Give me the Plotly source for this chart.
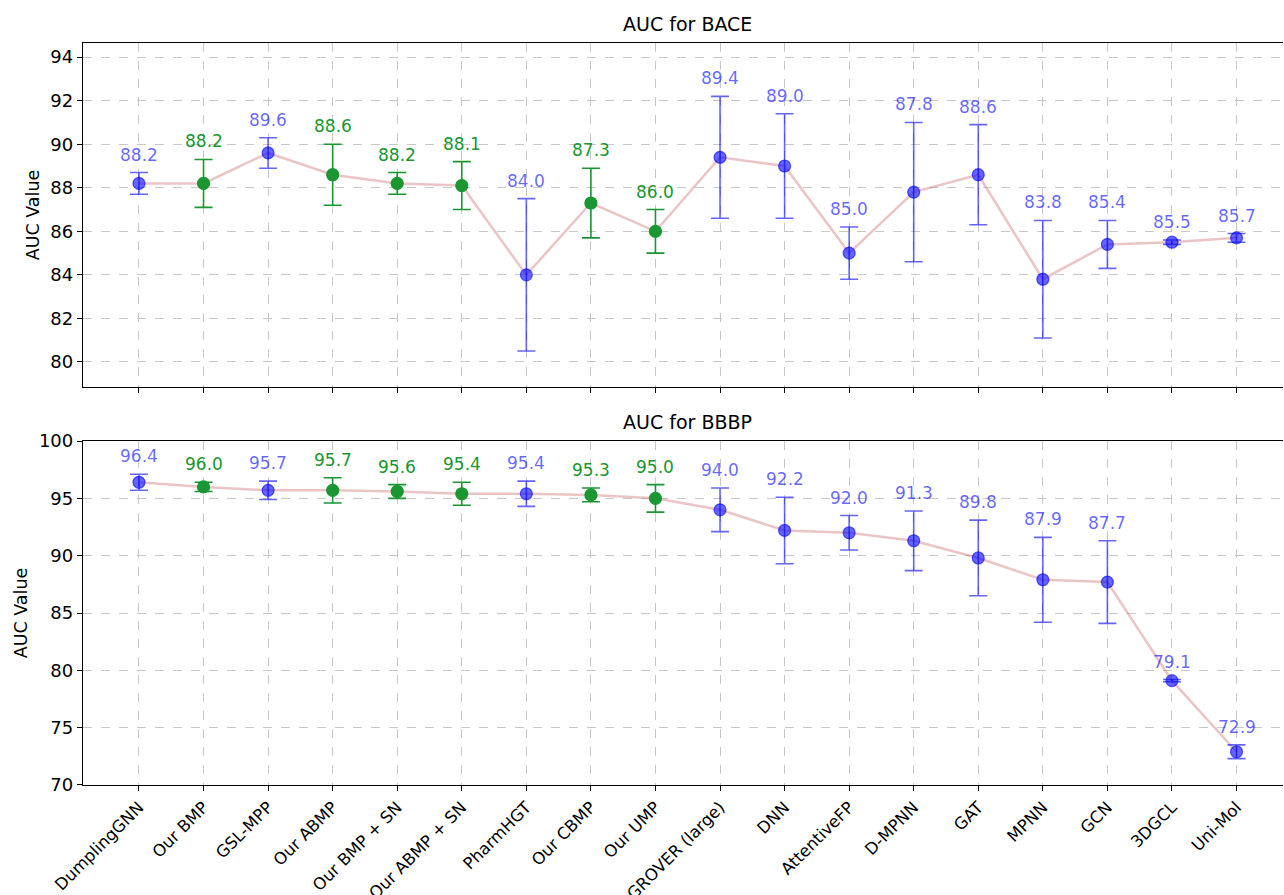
import plotly.graph_objects as go

categories = ["DumplingGNN", "Our BMP", "GSL-MPP", "Our ABMP", "Our BMP + SN", "Our ABMP + SN",
              "PharmHGT", "Our CBMP", "Our UMP", "GROVER (large)", "DNN", "AttentiveFP",
              "D-MPNN", "GAT", "MPNN", "GCN", "3DGCL", "Uni-Mol"]
is_ours = [False, True, False, True, True, True, False, True, True, False, False, False,
           False, False, False, False, False, False]

bace_auc = [88.2, 88.2, 89.6, 88.6, 88.2, 88.1, 84.0, 87.3, 86.0, 89.4, 89.0, 85.0,
            87.8, 88.6, 83.8, 85.4, 85.5, 85.7]
bace_err = [0.5, 1.1, 0.7, 1.4, 0.5, 1.1, 3.5, 1.6, 1.0, 2.8, 2.4, 1.2,
            3.2, 2.3, 2.7, 1.1, 0.1, 0.2]

bbbp_auc = [96.4, 96.0, 95.7, 95.7, 95.6, 95.4, 95.4, 95.3, 95.0, 94.0, 92.2, 92.0,
            91.3, 89.8, 87.9, 87.7, 79.1, 72.9]
bbbp_err = [0.7, 0.4, 0.8, 1.1, 0.6, 1.0, 1.1, 0.6, 1.2, 1.9, 2.9, 1.5,
            2.6, 3.3, 3.7, 3.6, 0.1, 0.6]

bace_ticks = [80, 82, 84, 86, 88, 90, 92, 94]
bbbp_ticks = [70, 75, 80, 85, 90, 95, 100]

BLUE_MARK = "rgba(0,0,255,0.6)"
BLUE_ERR = "rgba(0,0,255,0.6)"
BLUE_TXT = "rgba(0,0,255,0.6)"
GREEN = "rgb(26,150,50)"
LINE = "rgba(205,110,110,0.4)"
FONT = "DejaVu Sans"
FS = 17

fig = go.Figure()


def add_panel(vals, errs, xa, ya):
    fig.add_trace(go.Scatter(x=categories, y=vals, mode="lines",
                             line=dict(color=LINE, width=2.5),
                             xaxis=xa, yaxis=ya, showlegend=False, hoverinfo="skip"))
    for ours, mc, ec in [(False, BLUE_MARK, BLUE_ERR), (True, GREEN, GREEN)]:
        xs = [c for c, o in zip(categories, is_ours) if o == ours]
        ys = [v for v, o in zip(vals, is_ours) if o == ours]
        es = [e for e, o in zip(errs, is_ours) if o == ours]
        fig.add_trace(go.Scatter(
            x=xs, y=ys, mode="markers",
            marker=dict(size=12, color=mc, line=dict(color=mc, width=1.2)),
            error_y=dict(type="data", array=es, visible=True, color=ec,
                         thickness=1.6, width=9),
            xaxis=xa, yaxis=ya, showlegend=False))
    ref_x = "x" if xa == "x" else "x2"
    ref_y = "y" if ya == "y" else "y2"
    for c, v, e, o in zip(categories, vals, errs, is_ours):
        fig.add_annotation(x=c, y=v + e, xref=ref_x, yref=ref_y, text=f"{v:.1f}",
                           showarrow=False, yanchor="bottom", yshift=6,
                           font=dict(family=FONT, size=FS,
                                     color=GREEN if o else BLUE_TXT))


add_panel(bace_auc, bace_err, "x", "y")
add_panel(bbbp_auc, bbbp_err, "x2", "y2")

xcommon = dict(range=[-0.867, 17.72], showgrid=True, gridcolor="rgba(190,190,190,0.85)",
               griddash="dash", gridwidth=1, showline=True, linecolor="black", linewidth=1.3,
               mirror=True, ticks="outside", ticklen=5, tickcolor="black",
               tickfont=dict(family=FONT, size=FS - 0.5, color="black"), automargin=False,
               categoryorder="array", categoryarray=categories)
ycommon = dict(showgrid=True, gridcolor="rgba(190,190,190,0.85)", griddash="dash", gridwidth=1,
               showline=True, linecolor="black", linewidth=1.3, ticks="outside", ticklen=5,
               tickcolor="black", tickfont=dict(family=FONT, size=FS + 1, color="black"),
               zeroline=False, automargin=False,
               title=dict(text="AUC Value", standoff=6,
                          font=dict(family=FONT, size=FS + 0.5, color="black")))

fig.update_layout(
    width=1284, height=895,
    margin=dict(l=83, r=1, t=43, b=110),
    paper_bgcolor="white", plot_bgcolor="white",
    font=dict(family=FONT, color="black"),
    xaxis=dict(xcommon, domain=[0, 1], anchor="y", showticklabels=False, matches="x2"),
    yaxis=dict(ycommon, domain=[0.5364, 1], range=[78.85, 94.65], tickvals=bace_ticks),
    xaxis2=dict(xcommon, domain=[0, 1], anchor="y2", tickangle=-45),
    yaxis2=dict(ycommon, domain=[0, 0.4636], range=[70, 100], tickvals=bbbp_ticks),
)

for txt, ytop in [("AUC for BACE", 1.0), ("AUC for BBBP", 0.4636)]:
    fig.add_annotation(x=0.504, y=ytop, xref="paper", yref="paper", text=txt,
                       showarrow=False, yanchor="bottom", yshift=6,
                       font=dict(family=FONT, size=FS + 2, color="black"))

fig.write_html("out.html", config={"displayModeBar": False},
               post_script="document.body.style.margin='0';")
